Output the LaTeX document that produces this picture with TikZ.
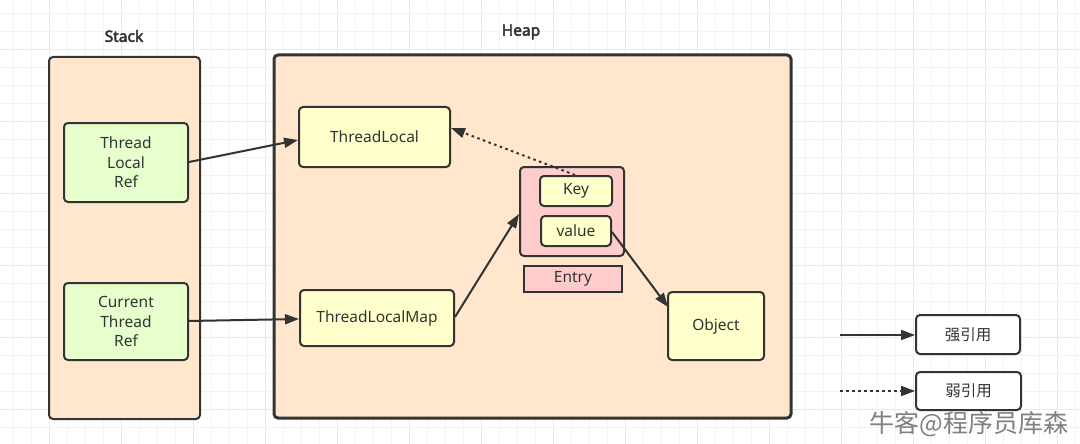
\documentclass[tikz,border=0pt]{standalone}
\usepackage{fontspec}
\setmainfont{Noto Sans}[AutoFakeBold=3]
\newfontfamily\cjk{Noto Sans CJK SC}
\usetikzlibrary{arrows.meta}
\definecolor{peach}{HTML}{FFE6CC}
\definecolor{lgreen}{HTML}{E6FFCC}
\definecolor{lyellow}{HTML}{FFFFCC}
\definecolor{lpink}{HTML}{FFCCCC}
\definecolor{edge}{HTML}{333333}
\definecolor{txt}{HTML}{333333}
\definecolor{gridminor}{HTML}{F3F3F3}
\definecolor{gridmajor}{HTML}{E9E9E9}
\tikzset{
  box/.style={draw=edge, line width=2pt, rounded corners=4pt, text=txt, font=\fontsize{15.5}{19.5}\selectfont, align=center, inner sep=0pt},
  region/.style={box, fill=peach},
  greenbox/.style={box, fill=lgreen},
  yelbox/.style={box, fill=lyellow},
  pinkbox/.style={box, fill=lpink},
  legbox/.style={box, fill=white},
  title/.style={text=txt, font=\bfseries\fontsize{15.5}{18}\selectfont},
  strong/.style={draw=edge, line width=2pt, -{Triangle[length=14pt,width=10pt]}},
  weak/.style={strong, line cap=butt, dash pattern=on 2.5pt off 3.5pt},
}
\begin{document}
\begin{tikzpicture}[x=1pt,y=-1pt]
\useasboundingbox (0,0) rectangle (1080,444);
\fill[white] (0,0) rectangle (1080,444);
% grid
\foreach \i in {0,...,59} {
  \pgfmathsetmacro\xx{13+18*\i}
  \pgfmathtruncatemacro\m{mod(\i,4)}
  \ifnum\m=2 \draw[gridmajor, line width=1pt] (\xx,0) -- (\xx,444);
  \else \draw[gridminor, line width=1pt] (\xx,0) -- (\xx,444); \fi
}
\foreach \i in {0,...,24} {
  \pgfmathsetmacro\yy{13.3+18*\i}
  \pgfmathtruncatemacro\m{mod(\i,4)}
  \ifnum\m=2 \draw[gridmajor, line width=1pt] (0,\yy) -- (1080,\yy);
  \else \draw[gridminor, line width=1pt] (0,\yy) -- (1080,\yy); \fi
}
% titles
\node[title] (stacklabel) at (124,36) {Stack};
\node[title] (heaplabel) at (521,32) {Heap};
% regions
\node[region, minimum width=151pt, minimum height=362pt] (stack) at (124.5,238) {};
\node[region, line width=3pt, minimum width=517pt, minimum height=363pt] (heap) at (532.5,236.5) {};
% stack items
\node[greenbox, minimum width=124pt, minimum height=79pt] (tlref) at (126,162.5) {Thread\\Local\\Ref};
\node[greenbox, minimum width=124pt, minimum height=77pt] (ctref) at (126,321.5) {Current\\Thread\\Ref};
% heap items
\node[yelbox, minimum width=151pt, minimum height=60pt] (tl) at (374.5,137) {ThreadLocal};
\node[yelbox, minimum width=154pt, minimum height=56pt] (tlm) at (377,318) {ThreadLocalMap};
\node[pinkbox, minimum width=104pt, minimum height=89pt] (entry) at (572,211.5) {};
\node[yelbox, minimum width=72pt, minimum height=30pt] (key) at (576,191) {Key};
\node[yelbox, minimum width=70pt, minimum height=30pt] (value) at (576,231) {value};
\node[pinkbox, rounded corners=0pt, minimum width=98pt, minimum height=26pt] (entrylabel) at (573,279) {Entry};
\node[yelbox, minimum width=96pt, minimum height=68pt] (obj) at (716,326) {Object};
% legend
\node[legbox, minimum width=104pt, minimum height=39pt] (leg1) at (968,334.5) {\cjk 强引用};
\node[legbox, minimum width=105pt, minimum height=38pt] (leg2) at (968.5,391) {\cjk 弱引用};
\coordinate (l1s) at (840,335);
\coordinate (l2s) at (840,391);
% connectors
\draw[strong] (tlref.east |- 0,162) -- (tl.west |- 0,140);
\draw[strong] (ctref.east |- 0,321) -- (tlm.west |- 0,319);
\draw[strong] (tlm.east |- 0,317) -- (entry.west |- 0,214);
\draw[weak] (575,175) -- (tl.east |- 0,128);
\draw[strong] (value.east |- 0,232) -- (668,307);
\draw[strong] (l1s) -- (leg1.west |- l1s);
\draw[weak] (l2s) -- (leg2.west |- l2s);
% watermark
\node[text=black!50, font=\cjk\fontsize{25}{27}\selectfont, anchor=west] (wm) at (866,424) {牛客@程序员库森};
\end{tikzpicture}
\end{document}
